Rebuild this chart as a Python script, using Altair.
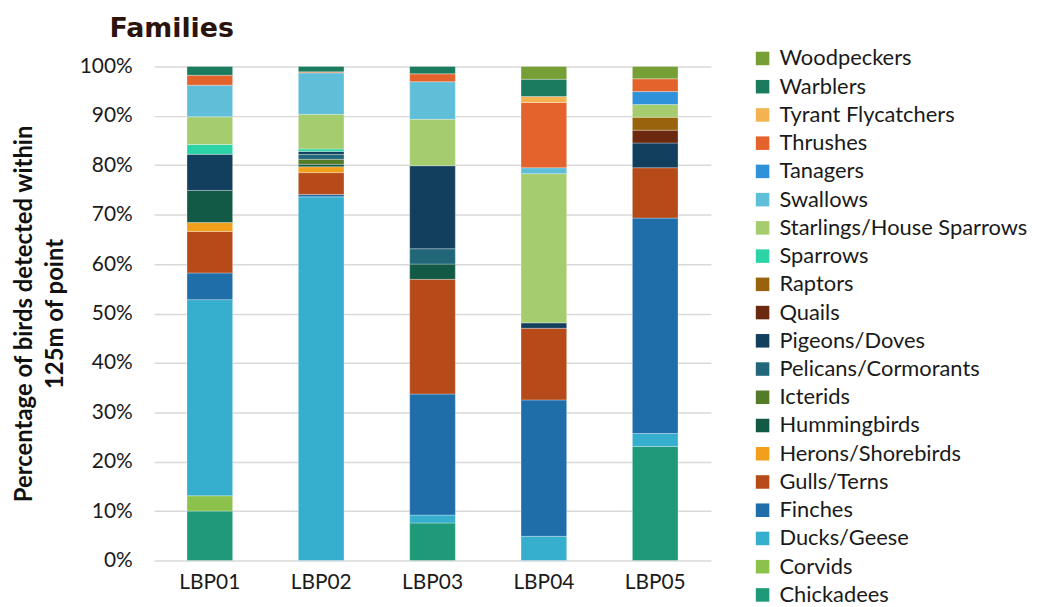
import altair as alt
import pandas as pd

sites = ["LBP01", "LBP02", "LBP03", "LBP04", "LBP05"]

families = [
    "Chickadees", "Corvids", "Ducks/Geese", "Finches", "Gulls/Terns",
    "Herons/Shorebirds", "Hummingbirds", "Icterids", "Pelicans/Cormorants",
    "Pigeons/Doves", "Quails", "Raptors", "Sparrows",
    "Starlings/House Sparrows", "Swallows", "Tanagers", "Thrushes",
    "Tyrant Flycatchers", "Warblers", "Woodpeckers",
]

colors = [
    "#1E9A78", "#8CC14B", "#36AECE", "#1F6EAA", "#B64A18",
    "#F29F1C", "#135A46", "#547B27", "#216779",
    "#133F5F", "#6B2A10", "#99620C", "#2CD3A7",
    "#A5CD6E", "#5FBFD9", "#2E91DA", "#E4622B",
    "#F4B350", "#1B7B5E", "#76A035",
]

lbp01 = [10.0, 3.1, 39.7, 5.4, 8.4, 1.8, 6.5, 0, 0, 7.3, 0, 0, 2.0, 5.6, 6.4, 0, 2.0, 0, 1.8, 0]
lbp02 = [0, 0, 73.6, 0.5, 4.4, 1.2, 0.5, 1.0, 1.0, 0.6, 0, 0, 0.5, 7.0, 8.4, 0, 0.2, 0, 1.1, 0]
lbp03 = [7.6, 0, 1.6, 24.5, 23.2, 0, 3.1, 0, 3.1, 16.8, 0, 0, 0, 9.4, 7.6, 0, 1.6, 0, 1.5, 0]
lbp04 = [0, 0, 4.9, 27.6, 14.5, 0, 0, 0, 0, 1.1, 0, 0, 0, 30.2, 1.2, 0, 13.2, 1.2, 3.5, 2.6]
lbp05 = [23.1, 0, 2.6, 43.6, 10.2, 0, 0, 0, 0, 5.0, 2.6, 2.6, 0, 2.6, 0, 2.6, 2.6, 0, 0, 2.5]

site_values = [lbp01, lbp02, lbp03, lbp04, lbp05]

y_ticks = [0, 10, 20, 30, 40, 50, 60, 70, 80, 90, 100]

chart_title = "Families"
y_title = ["Percentage of birds detected within", "125m of point"]

rows = []
for site, vals in zip(sites, site_values):
    for i, (fam, v) in enumerate(zip(families, vals)):
        if v > 0:
            rows.append({"site": site, "family": fam, "idx": i, "pct": v})
df = pd.DataFrame(rows)

FONT = "Lato"

bars = (
    alt.Chart(df)
    .mark_bar(stroke="white", strokeWidth=0.5, strokeOpacity=0.6)
    .encode(
        x=alt.X(
            "site:N",
            sort=sites,
            title=None,
            scale=alt.Scale(paddingInner=0.59, paddingOuter=0.295),
            axis=alt.Axis(
                labelAngle=0, ticks=False, domain=False, labelPadding=11,
                labelFontSize=21, labelColor="#1a1a1a", labelFont=FONT,
            ),
        ),
        y=alt.Y(
            "pct:Q",
            stack="zero",
            scale=alt.Scale(domain=[0, 100], nice=False),
            title=y_title,
            axis=alt.Axis(
                values=y_ticks, labelExpr="datum.value + '%'",
                ticks=False, domain=False, labelPadding=22,
                labelFontSize=21, labelColor="#1a1a1a", labelFont=FONT,
                gridColor="#D9D9D9", gridWidth=1.5,
                titleFontSize=24, titleFont=FONT, titleFontWeight="bold",
                titleColor="#111111", titlePadding=12, titleLineHeight=31,
            ),
        ),
        color=alt.Color(
            "family:N",
            scale=alt.Scale(domain=families[::-1], range=colors[::-1]),
            legend=alt.Legend(
                title=None, orient="none", legendX=601, legendY=-19,
                symbolType="square", symbolSize=185, symbolStrokeWidth=0,
                labelFontSize=22, labelFont=FONT, labelColor="#1a1a1a",
                labelOffset=6, rowPadding=6.4, labelLimit=400,
            ),
        ),
        order=alt.Order("idx:Q", sort="ascending"),
    )
)

title_text = (
    alt.Chart(pd.DataFrame({"t": [chart_title]}))
    .mark_text(
        align="left", baseline="alphabetic", fontSize=27, font="DejaVu Sans",
        fontWeight="bold", color="#2A140C",
    )
    .encode(x=alt.value(-45), y=alt.value(-30), text="t:N")
)

chart = (
    alt.layer(bars, title_text)
    .properties(
        width=560,
        height=497,
        autosize=alt.AutoSizeParams(type="none"),
        padding={"left": 147, "top": 57, "right": 322, "bottom": 46},
    )
    .configure_view(stroke=None)
)

chart.save("out.html", embed_options={"renderer": "svg", "actions": False})
